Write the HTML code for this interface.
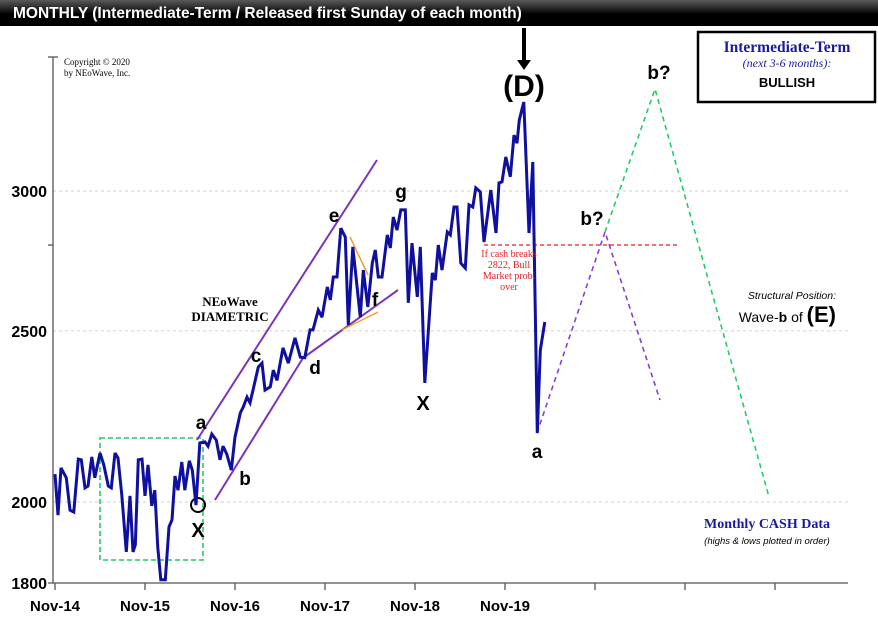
<!DOCTYPE html>
<html><head><meta charset="utf-8">
<style>
html,body{margin:0;padding:0;background:#fff;}
body{width:878px;height:635px;overflow:hidden;position:relative;font-family:"Liberation Sans",sans-serif;}
#hdr{position:absolute;left:0;top:0;width:878px;height:26px;background:linear-gradient(#5a5a5a,#000 55%,#000);color:#fff;font-weight:bold;font-size:15.5px;line-height:27px;padding-left:13px;box-sizing:border-box;}
svg{position:absolute;left:0;top:0;}
</style></head><body>
<div id="hdr">MONTHLY (Intermediate-Term / Released first Sunday of each month)</div>
<svg id="chart" width="878" height="635" style="top:0">
<defs></defs>
<g id="grid"></g>
<g id="axes"></g>
<g id="annot">
  <rect x="100" y="438" width="103" height="122" fill="none" stroke="#22cc66" stroke-width="1.6" stroke-dasharray="5,3"/>
  <line x1="197" y1="440" x2="377" y2="160" stroke="#7b35b8" stroke-width="2"/>
  <line x1="215" y1="500" x2="303" y2="358" stroke="#7b35b8" stroke-width="2"/>
  <line x1="303" y1="358" x2="398" y2="290" stroke="#7b35b8" stroke-width="2"/>
  <line x1="350" y1="237" x2="368" y2="275" stroke="#f0a030" stroke-width="1.5"/>
  <line x1="342" y1="330" x2="378" y2="312" stroke="#f0a030" stroke-width="1.5"/>
  <line x1="484" y1="245" x2="677" y2="245" stroke="#e52222" stroke-width="1.2" stroke-dasharray="4,3"/>
  <polyline points="537,433 605,232 660,400" fill="none" stroke="#8a3fd0" stroke-width="1.6" stroke-dasharray="5,4"/>
  <polyline points="605,232 655,89 769,497" fill="none" stroke="#22cc66" stroke-width="1.6" stroke-dasharray="5,4"/>
  <circle cx="198" cy="505" r="7" fill="none" stroke="#000" stroke-width="2"/>
  <line x1="524" y1="28" x2="524" y2="62" stroke="#000" stroke-width="4"/>
  <polygon points="517,60 531,60 524,70" fill="#000"/>
</g>
<g id="series"></g>
<g font-weight="bold" font-size="19" text-anchor="middle">
  <text x="201" y="429">a</text>
  <text x="198" y="537" font-size="20">X</text>
  <text x="245" y="485">b</text>
  <text x="256" y="362">c</text>
  <text x="315" y="374">d</text>
  <text x="334" y="222">e</text>
  <text x="375" y="306">f</text>
  <text x="401" y="198">g</text>
  <text x="423" y="410" font-size="20">X</text>
  <text x="537" y="458">a</text>
  <text x="592" y="225">b?</text>
  <text x="659" y="79">b?</text>
  <text x="524" y="96" font-size="30">(D)</text>
</g>
<g font-family="Liberation Serif,serif">
  <text x="64" y="65" font-size="9">Copyright © 2020</text>
  <text x="64" y="76" font-size="9">by NEoWave, Inc.</text>
  <text x="230" y="306" font-size="13" font-weight="bold" text-anchor="middle">NEoWave</text>
  <text x="230" y="321" font-size="13" font-weight="bold" text-anchor="middle">DIAMETRIC</text>
  <g fill="#e52222" font-size="10" text-anchor="middle">
    <text x="509" y="257">If cash breaks</text><text x="509" y="268">2822, Bull</text><text x="509" y="279">Market prob.</text><text x="509" y="290">over</text>
  </g>
  <text x="767" y="528" font-size="14" font-weight="bold" fill="#1a1aa0" text-anchor="middle">Monthly CASH Data</text>
</g>
<text x="767" y="544" font-size="9.5" font-style="italic" text-anchor="middle">(highs &amp; lows plotted in order)</text>
<text x="836" y="299" font-size="10.5" font-style="italic" text-anchor="end">Structural Position:</text>
<text x="836" y="322" font-size="14" text-anchor="end">Wave-<tspan font-weight="bold">b</tspan> of <tspan font-weight="bold" font-size="22">(E)</tspan></text>
<g>
  <rect x="698" y="32" width="177" height="70" fill="#fff" stroke="#000" stroke-width="2.5"/>
  <text x="787" y="52" font-family="Liberation Serif,serif" font-weight="bold" font-size="15.5" fill="#1a1aa0" text-anchor="middle">Intermediate-Term</text>
  <text x="787" y="67" font-family="Liberation Serif,serif" font-style="italic" font-size="12" fill="#1a1aa0" text-anchor="middle">(next 3-6 months):</text>
  <text x="787" y="87" font-weight="bold" font-size="13" text-anchor="middle">BULLISH</text>
</g>
</svg>
<script>
const months = [0,0.4,0.8,1.5,2.0,2.5,3.1,3.5,4.0,4.4,4.9,5.3,6.0,6.5,7.1,7.5,8.0,8.4,8.9,9.5,10.0,10.4,10.7,11.1,11.6,12.0,12.4,12.9,13.3,13.7,14.1,14.7,15.2,15.6,16.0,16.4,16.9,17.3,17.9,18.3,18.8,19.3,20.0,20.4,20.9,21.5,22.0,22.4,22.9,23.5,24.0,24.7,25.1,25.6,26.0,26.4,27.1,27.6,28.0,28.7,29.1,29.6,30.4,31.1,32.0,32.7,33.3,34.0,34.4,35.1,35.6,36.3,36.7,37.1,37.6,38.1,38.7,39.1,39.7,40.7,41.1,41.7,42.3,42.7,43.1,43.6,44.3,44.7,45.1,45.6,46.1,46.7,47.1,47.6,48.3,48.7,49.3,50.3,50.7,51.1,51.6,52.3,52.7,53.2,53.6,54.1,54.7,55.2,55.7,56.1,56.7,57.2,58.1,58.8,59.2,59.6,60.1,60.7,61.2,61.6,61.9,62.5,63.2,63.7,64.3,64.7,65.3];
const prices = [2074,1966,2091,2064,1979,1974,2115,2113,2037,2042,2121,2064,2132,2099,2042,2037,2132,2118,2018,1874,2016,1874,1891,2113,2115,2016,2099,1990,2031,1884,1807,1807,1936,1954,2069,2031,2107,2031,2110,2085,1992,2160,2163,2151,2185,2168,2113,2151,2129,2085,2177,2246,2264,2293,2276,2314,2385,2397,2314,2324,2375,2344,2445,2397,2477,2416,2414,2503,2503,2569,2545,2647,2603,2682,2682,2858,2825,2519,2789,2545,2706,2579,2731,2778,2682,2682,2833,2785,2900,2851,2927,2927,2593,2803,2613,2789,2336,2696,2671,2796,2706,2844,2833,2938,2938,2731,2713,2946,2938,3012,2996,2807,3004,2840,3032,3036,3136,3056,3227,3193,3291,3369,2840,3116,2188,2438,2529];
const yTicks = [1800,2000,2500,3000];
const xTickLabels = ["Nov-14","Nov-15","Nov-16","Nov-17","Nov-18","Nov-19","","",""];

const NS="http://www.w3.org/2000/svg";
function xs(m){return 55+m*7.5;}
function ys(v){return 502-767*Math.log(v/2000);}
function mk(tag,attrs,parent){const e=document.createElementNS(NS,tag);for(const k in attrs)e.setAttribute(k,attrs[k]);parent.appendChild(e);return e;}
const grid=document.getElementById('grid'),axes=document.getElementById('axes'),series=document.getElementById('series');
yTicks.forEach(v=>{
  const y=ys(v);
  if(v!==1800){
    const g=mk('line',{x1:53,x2:848,y1:y,y2:y,stroke:'#cfcfcf','stroke-width':1,'stroke-dasharray':'3,3'},grid);
    
    
  }
  const t=mk('text',{x:47,y:y+6,'text-anchor':'end','font-size':16,'font-weight':'bold'},axes);
  t.textContent=v;
  
  
});
mk('line',{x1:53,x2:53,y1:57,y2:583,stroke:'#555','stroke-width':1.3},axes);
mk('line',{x1:48,x2:58,y1:57,y2:57,stroke:'#555','stroke-width':1.3},axes);
mk('line',{x1:48,x2:53,y1:245,y2:245,stroke:'#555','stroke-width':1.3},axes);
mk('line',{x1:48,x2:848,y1:583,y2:583,stroke:'#555','stroke-width':1.3},axes);
xTickLabels.forEach((lab,i)=>{
  const x=xs(i*12);
  mk('line',{x1:x,x2:x,y1:583,y2:590,stroke:'#555','stroke-width':1.3},axes);
  if(lab){
    const t=mk('text',{x:x,y:611,'text-anchor':'middle','font-size':15,'font-weight':'bold'},axes);
    t.textContent=lab;
    
    
  }
});
const pts=months.map((m,i)=>xs(m).toFixed(1)+','+ys(prices[i]).toFixed(1)).join(' ');
const pl=mk('polyline',{points:pts,fill:'none',stroke:'#0f0fa0','stroke-width':3,'stroke-linejoin':'miter','stroke-miterlimit':3},series);


</script>
</body></html>
